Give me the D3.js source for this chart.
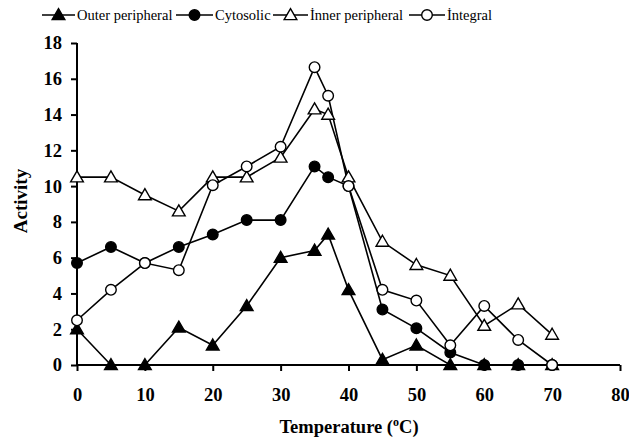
<!DOCTYPE html>
<html><head><meta charset="utf-8">
<script src="https://cdn.jsdelivr.net/npm/d3@7"></script>
<style>body{margin:0;background:#fff}svg{display:block}text{font-family:"Liberation Serif","Times New Roman",serif}</style>
</head><body><svg id="c" width="629" height="439"></svg>
<script>
const temps = [0,5,10,15,20,25,30,35,37,40,45,50,55,60,65,70];
const outerPeripheral = [2.0,0,0,2.1,1.1,3.3,6.0,6.4,7.3,4.2,0.3,1.1,0,0,0,0];
const cytosolic = [5.7,6.6,5.7,6.6,7.3,8.1,8.1,11.1,10.5,10.0,3.1,2.05,0.7,0,0,0];
const innerPeripheral = [10.5,10.5,9.5,8.6,10.5,10.5,11.6,14.3,14.0,10.5,6.9,5.6,5.0,2.2,3.4,1.7];
const integral = [2.5,4.2,5.7,5.3,10.05,11.1,12.2,16.65,15.05,10.0,4.2,3.6,1.1,3.3,1.4,0];
const seriesNames = ["Outer peripheral","Cytosolic","İnner peripheral","İntegral"];
const xTicks = [0,10,20,30,40,50,60,70,80];
const yTicks = [0,2,4,6,8,10,12,14,16,18];

const series = [
  {name: seriesNames[0], values: outerPeripheral, shape: "tri", fill: "#000"},
  {name: seriesNames[1], values: cytosolic, shape: "circ", fill: "#000"},
  {name: seriesNames[2], values: innerPeripheral, shape: "tri", fill: "#fff"},
  {name: seriesNames[3], values: integral, shape: "circ", fill: "#fff"}
];

const svg = d3.select("#c");
const x = d3.scaleLinear().domain([0,80]).range([77,620]);
const y = d3.scaleLinear().domain([0,18]).range([365,43]);

// axes
const xAxis = svg.append("g").attr("transform","translate(0,365)")
  .call(d3.axisBottom(x).tickValues(xTicks).tickSize(6).tickSizeOuter(0).tickPadding(17));
const yAxis = svg.append("g").attr("transform","translate(77,0)")
  .call(d3.axisLeft(y).tickValues(yTicks).tickSize(6).tickSizeOuter(0).tickPadding(9));
[xAxis,yAxis].forEach(a=>{
  a.attr("font-family",null);
  a.selectAll("path,line").attr("stroke","#000").attr("stroke-width",2);
  a.selectAll("text").attr("font-weight","bold").attr("font-size",18.5).attr("fill","#000");
});
xAxis.select(".domain").attr("d","M77,0H620");
yAxis.select(".domain").attr("d","M0,365V43");

// markers
const triPath = d3.symbol().type(d3.symbolTriangle).size(70)();
function drawMarker(g, shape, fill, cx, cy){
  if(shape==="tri"){
    g.append("path").attr("d",triPath).attr("transform",`translate(${cx},${cy+1})`)
      .attr("fill",fill).attr("stroke","#000").attr("stroke-width",1.4);
  } else {
    g.append("circle").attr("cx",cx).attr("cy",cy).attr("r",5.3)
      .attr("fill",fill).attr("stroke","#000").attr("stroke-width",1.4);
  }
}

const line = d3.line().x(d=>x(d[0])).y(d=>y(d[1]));
const plot = svg.append("g");
series.forEach(s=>{
  const pts = temps.map((t,i)=>[t,s.values[i]]);
  plot.append("path").attr("d",line(pts)).attr("fill","none").attr("stroke","#000").attr("stroke-width",1.6);
});
series.forEach(s=>{
  const g = plot.append("g");
  temps.forEach((t,i)=>drawMarker(g, s.shape, s.fill, x(t), y(s.values[i])));
});

// legend
const legend = svg.append("g");
const legendX = [42,176,273,409];
const legendW = [33,37,35,36];
series.forEach((s,i)=>{
  const lx = legendX[i], ly = 15;
  legend.append("line").attr("x1",lx).attr("x2",lx+legendW[i]).attr("y1",ly).attr("y2",ly)
    .attr("stroke","#000").attr("stroke-width",1.6);
  drawMarker(legend, s.shape, s.fill, lx+legendW[i]/2, ly);
  legend.append("text").attr("x",lx+legendW[i]+2).attr("y",ly+5)
    .attr("font-size",14.5).attr("fill","#000").text(s.name);
});

// axis titles
svg.append("text").attr("transform","translate(27,201) rotate(-90)").attr("text-anchor","middle")
  .attr("font-weight","bold").attr("font-size",19).text("Activity");
const xt = svg.append("text").attr("x",349).attr("y",433).attr("text-anchor","middle")
  .attr("font-weight","bold").attr("font-size",18.5);
xt.append("tspan").text("Temperature (");
xt.append("tspan").attr("font-size",12).attr("dy",-7).text("o");
xt.append("tspan").attr("dy",7).text("C)");
</script></body></html>
